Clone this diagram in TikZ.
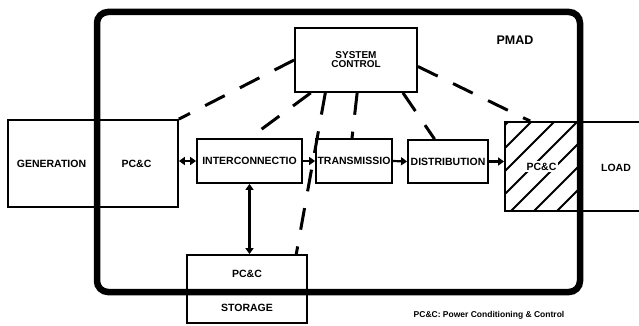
\documentclass[tikz,border=0pt]{standalone}
\usepackage{fontspec}
\setmainfont{Liberation Sans}
\usetikzlibrary{positioning,arrows.meta}
\tikzset{
    block/.style={rectangle, draw, line width=1.8pt, inner sep=0pt, font=\fontsize{10.5}{11}\selectfont\bfseries},
    open block/.style={rectangle, inner sep=0pt, font=\fontsize{10.5}{11}\selectfont\bfseries},
    pmad border/.style={rectangle, draw, line width=6.5pt, rounded corners=11pt, inner sep=0pt},
    flow/.style={line width=2.2pt, -{Triangle[length=6pt,width=8pt]}},
    both flow/.style={line width=2.2pt, {Triangle[length=6pt,width=8pt]}-{Triangle[length=6pt,width=8pt]}},
    control line/.style={line width=3pt, dash pattern=on 22pt off 17pt},
    hatch/.style={line width=1.8pt},
    caption/.style={font=\fontsize{8.5}{9}\selectfont\bfseries}
}

\begin{document}
\begin{tikzpicture}[x=1pt, y=-1pt]
    \useasboundingbox (0,0) rectangle (639,326);

    % PMAD enclosure
    \node[pmad border, minimum width=483pt, minimum height=280pt] (pmad) at (338.5,152) {};
    \node[font=\fontsize{12.5}{13}\selectfont\bfseries] (pmadlabel) at (515,40) {PMAD};

    % Source side
    \node[block, minimum width=87pt, minimum height=87pt] (gen) at (51.5,163.5) {GENERATION};
    \node[block, minimum width=83pt, minimum height=87pt] (pcin) at (136.5,163.5) {PC\&C};

    % Main chain
    \node[block, minimum width=105pt, minimum height=44pt] (inter) at (249.5,161) {INTERCONNECTIO};
    \node[block, minimum width=76pt, minimum height=44pt] (trans) at (354,161) {TRANSMISSIO};
    \node[block, minimum width=80pt, minimum height=43pt] (dist) at (448,161.5) {DISTRIBUTION};

    % Load side (hatched PC&C)
    \node[block, minimum width=73pt, minimum height=89pt] (pcout) at (541.5,166.5) {};
    \begin{scope}
        \clip (pcout.south west) rectangle (pcout.north east);
        \foreach \c in {630,653,...,768}
            \draw[hatch] (\c-230,230) -- (\c-100,100);
    \end{scope}
    \node[block, draw=none, fill=white, inner sep=1.5pt] (pcoutlabel) at (pcout.center) {PC\&C};
    \node[block, minimum width=84pt, minimum height=89pt] (load) at (620,166.5) {};
    \node[open block] (loadlabel) at (616,168) {LOAD};

    % System control
    \node[block, minimum width=122pt, minimum height=64pt, align=center,
          font=\fontsize{10}{9}\selectfont\bfseries] (sysctl) at (356,60) {SYSTEM\\CONTROL};

    % Storage
    \node[block, minimum width=120pt, minimum height=38pt] (storpc) at (247,274) {PC\&C};
    \node[block, minimum width=120pt, minimum height=30pt] (stor) at (247,308) {STORAGE};

    % Power flow
    \draw[both flow] (inter.west -| pcin.east) -- (inter.west);
    \draw[flow] (inter.east) -- (trans.west);
    \draw[flow] (trans.east) -- (dist.west);
    \draw[flow] (dist.east) -- (dist.east -| pcout.west);
    \draw[both flow] (inter.south) -- (inter.south |- storpc.north);

    % Control links
    \draw[control line] (sysctl.west) -- (pcin.north east);
    \draw[control line] (sysctl.216) -- (inter.north);
    \draw[control line] (sysctl.227) -- (storpc.22);
    \draw[control line] (sysctl.272) -- (trans.95);
    \draw[control line] (sysctl.325) -- (dist.121);
    \draw[control line] (sysctl.354) -- (pcout.104);

    \node[caption] (note) at (489,315) {PC\&C: Power Conditioning \& Control};
\end{tikzpicture}
\end{document}
